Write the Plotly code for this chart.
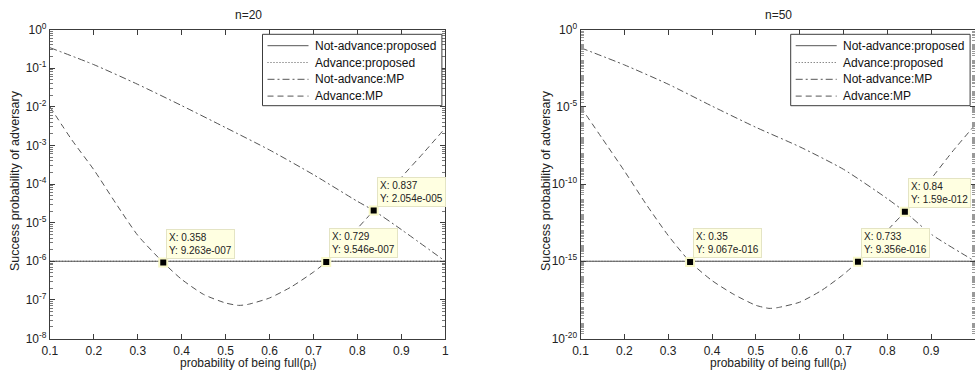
import math
import plotly.graph_objects as go

# ---------------- data ----------------
x_ticks = [0.1, 0.2, 0.3, 0.4, 0.5, 0.6, 0.7, 0.8, 0.9, 1.0]
x_tick_labels = ["0.1", "0.2", "0.3", "0.4", "0.5", "0.6", "0.7", "0.8", "0.9", "1"]

series_names = ["Not-advance:proposed", "Advance:proposed", "Not-advance:MP", "Advance:MP"]

# n = 20
prop_x = [0.1, 1.0]
n20_notadv_prop = [1e-6, 1e-6]
n20_adv_prop = [1e-6, 1e-6]
n20_notadv_mp_x = [0.1, 0.2, 0.3, 0.4, 0.5, 0.6, 0.7, 0.8, 0.837, 0.9, 1.0]
n20_notadv_mp = [3.39e-1, 1.23e-1, 3.8e-2, 1.07e-2, 2.88e-3, 7.59e-4, 1.74e-4,
                 3.55e-5, 2.054e-5, 6.6e-6, 1.0e-6]
n20_adv_mp_x = [0.1, 0.15, 0.2, 0.25, 0.3, 0.358, 0.4, 0.45, 0.5, 0.53, 0.55, 0.6,
                0.65, 0.7, 0.729, 0.75, 0.8, 0.837, 0.85, 0.9, 0.95, 1.0]
n20_adv_mp = [1.0e-2, 1.38e-3, 2.34e-4, 3.16e-5, 4.68e-6, 9.263e-7, 3.39e-7, 1.38e-7,
              8.3e-8, 7.2e-8, 7.6e-8, 1.12e-7, 2.19e-7, 5.25e-7, 9.546e-7, 1.70e-6,
              7.08e-6, 2.054e-5, 3.02e-5, 1.48e-4, 6.31e-4, 2.82e-3]
n20_tip_x = [0.358, 0.729, 0.837]
n20_tip_y = [9.263e-7, 9.546e-7, 2.054e-5]
n20_tip_text = ["X: 0.358<br>Y: 9.263e-007", "X: 0.729<br>Y: 9.546e-007",
                "X: 0.837<br>Y: 2.054e-005"]
n20_y_ticks = [1e0, 1e-1, 1e-2, 1e-3, 1e-4, 1e-5, 1e-6, 1e-7, 1e-8]
n20_y_labels = ["10<sup>0</sup>", "10<sup>-1</sup>", "10<sup>-2</sup>", "10<sup>-3</sup>",
                "10<sup>-4</sup>", "10<sup>-5</sup>", "10<sup>-6</sup>", "10<sup>-7</sup>",
                "10<sup>-8</sup>"]

# n = 50
n50_notadv_prop = [1e-15, 1e-15]
n50_adv_prop = [1e-15, 1e-15]
n50_notadv_mp_x = [0.1, 0.2, 0.3, 0.4, 0.5, 0.6, 0.7, 0.8, 0.84, 0.9, 1.0]
n50_notadv_mp = [6.61e-2, 5.13e-3, 2.88e-4, 1.10e-5, 4.68e-7, 2.57e-8, 8.91e-10,
                 1.12e-11, 1.59e-12, 5.62e-14, 1.0e-15]
n50_adv_mp_x = [0.1, 0.15, 0.2, 0.25, 0.3, 0.35, 0.4, 0.45, 0.5, 0.53, 0.55, 0.6,
                0.65, 0.7, 0.733, 0.75, 0.8, 0.84, 0.85, 0.9, 0.95, 1.0]
n50_adv_mp = [1.0e-5, 8.51e-8, 7.08e-10, 4.79e-12, 4.68e-14, 9.067e-16, 5.62e-17,
              7.08e-18, 1.41e-18, 8.91e-19, 1.0e-18, 2.24e-18, 1.29e-17, 1.41e-16,
              9.356e-16, 2.88e-15, 1.0e-13, 1.59e-12, 3.55e-12, 2.19e-10, 1.41e-8, 6.61e-7]
n50_tip_x = [0.35, 0.733, 0.84]
n50_tip_y = [9.067e-16, 9.356e-16, 1.59e-12]
n50_tip_text = ["X: 0.35<br>Y: 9.067e-016", "X: 0.733<br>Y: 9.356e-016",
                "X: 0.84<br>Y: 1.59e-012"]
n50_y_ticks = [1e0, 1e-5, 1e-10, 1e-15, 1e-20]
n50_y_labels = ["10<sup>0</sup>", "10<sup>-5</sup>", "10<sup>-10</sup>",
                "10<sup>-15</sup>", "10<sup>-20</sup>"]

titles = ["n=20", "n=50"]
x_title = "probability of being full(p<sub>f</sub>)"
y_title = "Success probability of adversary"

# ---------------- styling ----------------
W, H = 975, 374
FONT = "Liberation Sans, Arial, Helvetica, sans-serif"
LINE = "#555555"
AX = "#3c3c3c"
styles = [
    dict(color=LINE, width=1, dash="solid"),
    dict(color=LINE, width=1, dash="1px,2px"),
    dict(color=LINE, width=1, dash="7px,3px,2px,3px"),
    dict(color=LINE, width=1, dash="6px,4px"),
]


def fx(p):
    """window pixel x -> paper fraction"""
    return p / W


def fy(p):
    """window pixel y -> paper fraction"""
    return 1 - p / H


fig = go.Figure()

panels = [
    dict(xa="x", ya="y", leg_x=262.5,
         series=[(prop_x, n20_notadv_prop), (prop_x, n20_adv_prop),
                 (n20_notadv_mp_x, n20_notadv_mp), (n20_adv_mp_x, n20_adv_mp)],
         tips=(n20_tip_x, n20_tip_y, n20_tip_text)),
    dict(xa="x2", ya="y2", leg_x=790.7,
         series=[(prop_x, n50_notadv_prop), (prop_x, n50_adv_prop),
                 (n50_notadv_mp_x, n50_notadv_mp), (n50_adv_mp_x, n50_adv_mp)],
         tips=(n50_tip_x, n50_tip_y, n50_tip_text)),
]

shapes = []
for pnl in panels:
    for name, (xs, ys), st in zip(series_names, pnl["series"], styles):
        fig.add_trace(go.Scatter(
            x=xs, y=ys, mode="lines", name=name, showlegend=False,
            line=dict(shape="spline", smoothing=0.6, **st),
            xaxis=pnl["xa"], yaxis=pnl["ya"]))
    tx, ty, tt = pnl["tips"]
    fig.add_trace(go.Scatter(
        x=tx, y=ty, mode="markers", showlegend=False,
        marker=dict(symbol="square", size=8, color="black",
                    line=dict(color="#f8f8c8", width=2)),
        xaxis=pnl["xa"], yaxis=pnl["ya"]))
    for a, b, t in zip(tx, ty, tt):
        fig.add_annotation(
            x=a, y=math.log10(b), xref=pnl["xa"], yref=pnl["ya"], text=t, showarrow=False,
            xanchor="left", yanchor="bottom", xshift=3, yshift=4, align="left",
            font=dict(family=FONT, size=10, color="#222"),
            bgcolor="#ffffe1", bordercolor="#e4e4c4", borderwidth=1, borderpad=2)

    # legend box (drawn by hand to match the compact MATLAB legend)
    lx = pnl["leg_x"]
    top, bot = 34.3, 105.7
    shapes.append(dict(type="rect", xref="paper", yref="paper",
                       x0=fx(lx), x1=fx(lx + 179.4), y0=fy(bot), y1=fy(top),
                       line=dict(color=AX, width=1), fillcolor="white", layer="above"))
    for i, (name, st) in enumerate(zip(series_names, styles)):
        ry = 45.7 + i * 16.8
        shapes.append(dict(type="line", xref="paper", yref="paper",
                           x0=fx(lx + 5), x1=fx(lx + 46), y0=fy(ry), y1=fy(ry),
                           line=dict(color=st["color"], width=1, dash=st["dash"]),
                           layer="above"))
        fig.add_annotation(x=fx(lx + 50), y=fy(ry), xref="paper", yref="paper",
                           text=name, showarrow=False, xanchor="left", yanchor="middle",
                           font=dict(family=FONT, size=12, color="#111"))

left_dom = [fx(49.9), fx(445.3)]
right_dom = [fx(580.5), 1.0]
ydom = [fy(338.5), fy(29.5)]

base_ax = dict(showline=True, linecolor=AX, linewidth=1, mirror="ticks",
               ticks="inside", ticklen=5, tickcolor=AX, showgrid=False,
               zeroline=False, automargin=False,
               tickfont=dict(family=FONT, size=12, color="#222"))

minor20 = [m * 10.0 ** k for k in range(-8, 0) for m in range(2, 10)]
minor50 = [m * 10.0 ** k for k in range(-20, 0) for m in range(1, 10)]

fig.update_layout(
    width=W, height=H, margin=dict(l=0, r=0, t=0, b=0),
    plot_bgcolor="white", paper_bgcolor="white",
    font=dict(family=FONT, size=12, color="#222"),
    showlegend=False,
    shapes=shapes,
    xaxis=dict(base_ax, domain=left_dom, range=[0.1, 1.0], tickmode="array",
               tickvals=x_ticks, ticktext=x_tick_labels, anchor="y",
               ticklabelstandoff=1),
    yaxis=dict(base_ax, domain=ydom, type="log", range=[-8, 0], tickmode="array",
               tickvals=n20_y_ticks, ticktext=n20_y_labels, anchor="x",
               minor=dict(tickmode="array", tickvals=minor20, ticks="inside",
                          ticklen=3, tickcolor="#777")),
    xaxis2=dict(base_ax, domain=right_dom, range=[0.1, 1.0], tickmode="array",
                tickvals=x_ticks, ticktext=x_tick_labels, anchor="y2",
                ticklabelstandoff=1),
    yaxis2=dict(base_ax, domain=ydom, type="log", range=[-20, 0], tickmode="array",
                tickvals=n50_y_ticks, ticktext=n50_y_labels, anchor="x2",
                minor=dict(tickmode="array", tickvals=minor50, ticks="inside",
                           ticklen=3, tickcolor="#999")),
)

# titles and axis labels
for cx, ttl in zip([248, 778], titles):
    fig.add_annotation(x=fx(cx), y=fy(15), xref="paper", yref="paper", text=ttl,
                       showarrow=False, xanchor="center", yanchor="middle",
                       font=dict(family=FONT, size=12, color="#222"))
    fig.add_annotation(x=fx(cx), y=fy(364), xref="paper", yref="paper", text=x_title,
                       showarrow=False, xanchor="center", yanchor="middle",
                       font=dict(family=FONT, size=12, color="#222"))
for cx in [15, 546]:
    fig.add_annotation(x=fx(cx), y=fy(181), xref="paper", yref="paper", text=y_title,
                       textangle=-90, showarrow=False, xanchor="center", yanchor="middle",
                       font=dict(family=FONT, size=12.5, color="#222"))

# remove the default 8px page margin so the figure fills the window exactly
fig.write_html("out.html",
               config={"displayModeBar": False},
               post_script="document.body.style.margin='0';"
                           "document.body.style.overflow='hidden';")
